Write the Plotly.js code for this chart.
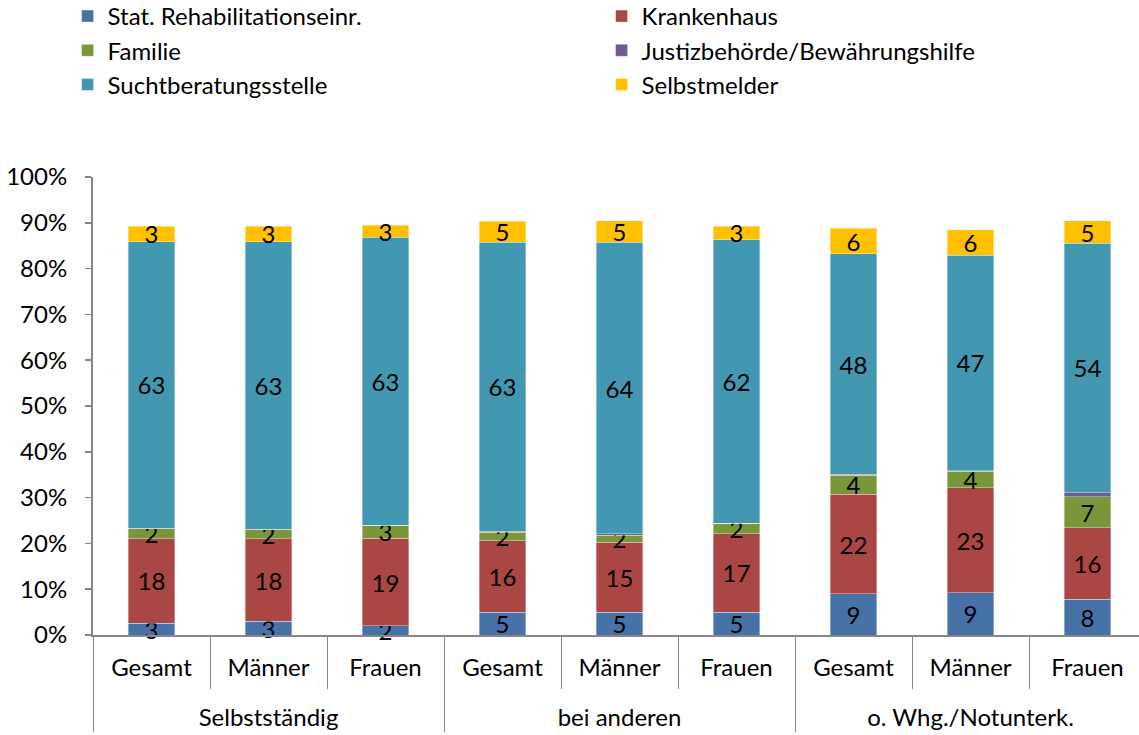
<!DOCTYPE html>
<html>
<head>
<meta charset="utf-8">
<script src="https://cdn.plot.ly/plotly-3.0.1.min.js"></script>
<style>html,body{margin:0;padding:0;background:#fff;}#chart{width:1139px;height:735px;}</style>
</head>
<body>
<div id="chart"></div>
<script>
const groups = ['Selbstständig','Selbstständig','Selbstständig','bei anderen','bei anderen','bei anderen','o. Whg./Notunterk.','o. Whg./Notunterk.','o. Whg./Notunterk.'];
const subs = ['Gesamt','Männer','Frauen','Gesamt','Männer','Frauen','Gesamt','Männer','Frauen'];
const yTickVals = [0,10,20,30,40,50,60,70,80,90,100];
const yTickText = ['0%','10%','20%','30%','40%','50%','60%','70%','80%','90%','100%'];

const rehab   = [2.6, 3.0, 2.0, 5.0, 5.0, 5.0, 9.0, 9.2, 7.8];
const kranken = [18.4, 18.0, 19.1, 15.6, 15.2, 17.1, 21.7, 23.0, 15.6];
const familie = [2.2, 2.0, 2.9, 1.8, 1.6, 2.3, 4.2, 3.6, 6.8];
const justiz  = [0.1, 0.1, 0.0, 0.3, 0.3, 0.0, 0.2, 0.1, 0.9];
const sucht   = [62.6, 62.8, 62.9, 63.0, 63.6, 61.9, 48.1, 47.0, 54.4];
const selbst  = [3.4, 3.4, 2.6, 4.6, 4.7, 3.0, 5.6, 5.6, 4.9];

const seriesNames = ['Stat. Rehabilitationseinr.','Krankenhaus','Familie','Justizbehörde/Bewährungshilfe','Suchtberatungsstelle','Selbstmelder'];
const seriesData = [rehab, kranken, familie, justiz, sucht, selbst];
const colors = ['#4672A8','#AA4644','#7A963A','#6F5A91','#4398B1','#FFC000'];
const showLabels = [true, true, true, false, true, true];

const FONT = 'Lato, "Open Sans", sans-serif';
const FS = 24;

const subLabels = subs.map(s => s + '<br><span style="font-size:14px"> </span>');

const traces = seriesNames.map((name, i) => ({
  type: 'bar',
  name: name,
  x: [groups, subLabels],
  y: seriesData[i],
  marker: {color: colors[i], line: {color: 'rgba(255,255,255,0.45)', width: 0.8}},
  texttemplate: showLabels[i] ? '%{y:.0f}' : '',
  textposition: showLabels[i] ? 'inside' : 'none',
  insidetextanchor: 'middle',
  textangle: 0,
  constraintext: 'none',
  cliponaxis: false,
  textfont: {family: FONT, size: FS, color: '#000'},
  hoverinfo: 'skip'
}));

const layout = {
  width: 1139, height: 735,
  margin: {l: 93, r: 0, t: 177, b: 100, autoexpand: false},
  paper_bgcolor: '#fff', plot_bgcolor: '#fff',
  barmode: 'stack',
  bargap: 0.6,
  showlegend: true,
  uniformtext: {mode: 'show', minsize: FS},
  font: {family: FONT, size: FS, color: '#000'},
  legend: {
    orientation: 'h',
    xref: 'paper', yref: 'paper',
    x: -0.0243, y: 1.3996, xanchor: 'left', yanchor: 'top',
    entrywidth: 489, entrywidthmode: 'pixels',
    traceorder: 'normal',
    font: {family: FONT, size: FS, color: '#000'},
    itemwidth: 30,
    tracegroupgap: 0
  },
  xaxis: {
    type: 'multicategory',
    range: [-0.5, 8.44],
    showline: true, linecolor: '#868686', linewidth: 2,
    ticks: 'outside', ticklen: 52, tickcolor: '#868686', tickwidth: 1,
    showdividers: true, dividercolor: '#868686', dividerwidth: 1,
    ticklabelstandoff: 10,
    tickfont: {family: FONT, size: FS, color: '#000'},
    showgrid: false, zeroline: false
  },
  yaxis: {
    range: [0, 100],
    tickvals: yTickVals,
    ticktext: yTickText,
    showline: true, linecolor: '#868686', linewidth: 2,
    ticks: 'outside', ticklen: 6, tickcolor: '#868686', tickwidth: 1.5,
    ticklabelstandoff: 13,
    tickfont: {family: FONT, size: FS, color: '#000'},
    showgrid: false, zeroline: false
  }
};

Plotly.newPlot('chart', traces, layout, {displayModeBar: false, staticPlot: true});
</script>
</body>
</html>
